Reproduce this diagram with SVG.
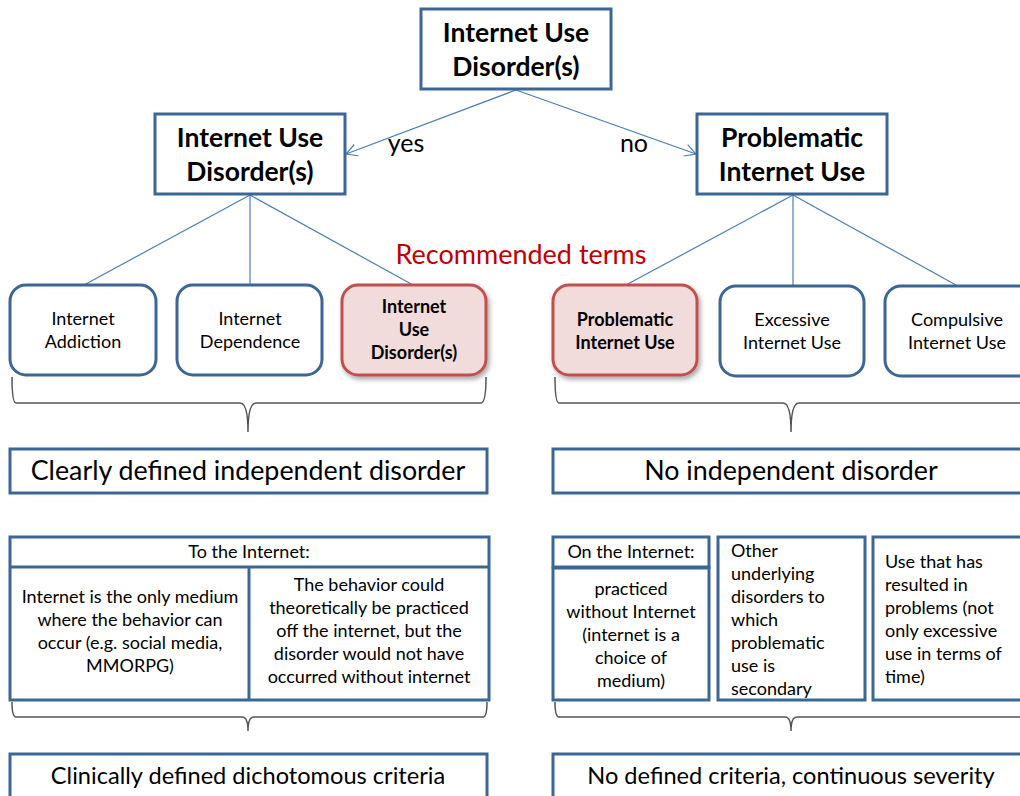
<svg xmlns="http://www.w3.org/2000/svg" width="1020" height="796" viewBox="0 0 1020 796">
<style>
text{font-family:Lato,"Open Sans","Liberation Sans",sans-serif;fill:#000;text-anchor:middle}
.box{fill:#fff;stroke:#3c6696;stroke-width:3}
.rbox{fill:#fff;stroke:#3c6696;stroke-width:3}
.red{fill:#f2dcdb;stroke:#c0504d;stroke-width:3}
.con{fill:none;stroke:#4a7ebb;stroke-width:1.2}
.brace{fill:none;stroke:#555;stroke-width:1.5}
.h1{font-size:26.5px;font-weight:bold}
.n{font-size:18px}
.nb{font-size:18px;font-weight:bold}
.big{font-size:26.8px}
.big2{font-size:23.6px}
.lbl{font-size:25px}
.l{text-anchor:start}
</style>
<defs>
<marker id="arr" markerWidth="14" markerHeight="14" refX="12" refY="7" orient="auto" markerUnits="userSpaceOnUse">
<path d="M1,1 L12,7 L1,13" fill="none" stroke="#4a7ebb" stroke-width="1.2"/>
</marker>
<filter id="sh" x="-10%" y="-10%" width="130%" height="130%">
<feGaussianBlur in="SourceAlpha" stdDeviation="2.5"/>
<feOffset dx="2" dy="3"/>
<feComponentTransfer><feFuncA type="linear" slope="0.35"/></feComponentTransfer>
<feMerge><feMergeNode/><feMergeNode in="SourceGraphic"/></feMerge>
</filter>
</defs>

<g id="connectors">
<line class="con" x1="516" y1="90" x2="346" y2="154" marker-end="url(#arr)"/>
<line class="con" x1="516" y1="90" x2="696" y2="154" marker-end="url(#arr)"/>
<line class="con" x1="250" y1="195" x2="84" y2="285"/>
<line class="con" x1="250" y1="195" x2="250" y2="285"/>
<line class="con" x1="250" y1="195" x2="413" y2="285"/>
<line class="con" x1="793" y1="195" x2="626" y2="285"/>
<line class="con" x1="793" y1="195" x2="793" y2="285"/>
<line class="con" x1="793" y1="195" x2="956" y2="285"/>
<text class="lbl" x="406" y="152">yes</text>
<text class="lbl" x="634" y="152">no</text>
<path class="brace" d="M12,377 Q12,403 16,403 L240,403 Q248,403 248,432 Q248,403 256,403 L481,403 Q486,403 486,377"/>
<path class="brace" d="M555,377 Q555,403 559,403 L783,403 Q791,403 791,432 Q791,403 799,403 L1024,403"/>
<path class="brace" d="M12,702 Q12,717 16,717 L242,717 Q248,717 248,731 Q248,717 254,717 L483,717 Q487,717 487,702"/>
<path class="brace" d="M555,702 Q555,717 559,717 L785,717 Q791,717 791,731 Q791,717 797,717 L1024,717"/>
</g>

<g id="root">
<rect class="box" x="421" y="9" width="190" height="80"/>
<text class="h1" x="516" y="42">Internet Use</text>
<text class="h1" x="516" y="76">Disorder(s)</text>
</g>

<g id="iud">
<rect class="box" x="155" y="114" width="190" height="80"/>
<text class="h1" x="250" y="147">Internet Use</text>
<text class="h1" x="250" y="181">Disorder(s)</text>
</g>

<g id="piu">
<rect class="box" x="697" y="114" width="190" height="80"/>
<text class="h1" x="792" y="147">Problematic</text>
<text class="h1" x="792" y="181">Internet Use</text>
</g>

<g id="recommended">
<text x="521" y="264" style="font-size:27px;fill:#c00000">Recommended terms</text>
</g>

<g id="addiction">
<rect class="rbox" x="10" y="285" width="146" height="90" rx="16"/>
<text class="n" x="83" y="325">Internet</text>
<text class="n" x="83" y="348">Addiction</text>
</g>
<g id="dependence">
<rect class="rbox" x="177" y="285" width="145" height="90" rx="16"/>
<text class="n" x="250" y="325">Internet</text>
<text class="n" x="250" y="348">Dependence</text>
</g>
<g id="iud-term">
<rect class="red" x="342" y="285" width="144" height="90" rx="16" filter="url(#sh)"/>
<text class="nb" x="414" y="313">Internet</text>
<text class="nb" x="414" y="336">Use</text>
<text class="nb" x="414" y="359">Disorder(s)</text>
</g>
<g id="piu-term">
<rect class="red" x="553" y="285" width="144" height="90" rx="16" filter="url(#sh)"/>
<text class="nb" x="625" y="326">Problematic</text>
<text class="nb" x="625" y="349">Internet Use</text>
</g>
<g id="excessive">
<rect class="rbox" x="720" y="286" width="144" height="90" rx="16"/>
<text class="n" x="792" y="326">Excessive</text>
<text class="n" x="792" y="349">Internet Use</text>
</g>
<g id="compulsive">
<rect class="rbox" x="885" y="286" width="150" height="90" rx="16"/>
<text class="n" x="957" y="326">Compulsive</text>
<text class="n" x="957" y="349">Internet Use</text>
</g>

<g id="clearly">
<rect class="box" x="10" y="449" width="477" height="44"/>
<text class="big" x="248" y="480">Clearly defined independent disorder</text>
</g>
<g id="noindep">
<rect class="box" x="553" y="449" width="480" height="44"/>
<text class="big" x="791" y="480">No independent disorder</text>
</g>

<g id="to-internet">
<rect class="box" x="10" y="537" width="479" height="163"/>
<line x1="10" y1="567" x2="489" y2="567" stroke="#3c6696" stroke-width="3"/>
<line x1="249" y1="567" x2="249" y2="700" stroke="#3c6696" stroke-width="3"/>
<text class="n" x="249" y="558">To the Internet:</text>
<text class="n" x="130" y="603">Internet is the only medium</text>
<text class="n" x="130" y="626">where the behavior can</text>
<text class="n" x="130" y="649">occur (e.g. social media,</text>
<text class="n" x="130" y="672">MMORPG)</text>
<text class="n" x="369" y="591">The behavior could</text>
<text class="n" x="369" y="614">theoretically be practiced</text>
<text class="n" x="369" y="637">off  the internet, but the</text>
<text class="n" x="369" y="660">disorder would not have</text>
<text class="n" x="369" y="683">occurred without internet</text>
</g>

<g id="on-internet">
<rect class="box" x="553" y="537" width="156" height="30"/>
<text class="n" x="631" y="558">On the Internet:</text>
<rect class="box" x="553" y="568" width="156" height="132"/>
<text class="n" x="631" y="595">practiced</text>
<text class="n" x="631" y="618">without Internet</text>
<text class="n" x="631" y="641">(internet is a</text>
<text class="n" x="631" y="664">choice of</text>
<text class="n" x="631" y="687">medium)</text>
</g>

<g id="other">
<rect class="box" x="718" y="537" width="147" height="163"/>
<text class="n l" x="731" y="557">Other</text>
<text class="n l" x="731" y="580">underlying</text>
<text class="n l" x="731" y="603">disorders to</text>
<text class="n l" x="731" y="626">which</text>
<text class="n l" x="731" y="649">problematic</text>
<text class="n l" x="731" y="672">use is</text>
<text class="n l" x="731" y="695">secondary</text>
</g>

<g id="use">
<rect class="box" x="873" y="537" width="160" height="163"/>
<text class="n l" x="885" y="568">Use that has</text>
<text class="n l" x="885" y="591">resulted  in</text>
<text class="n l" x="885" y="614">problems (not</text>
<text class="n l" x="885" y="637">only excessive</text>
<text class="n l" x="885" y="660">use in terms of</text>
<text class="n l" x="885" y="683">time)</text>
</g>

<g id="clinical">
<rect class="box" x="10" y="754" width="477" height="48"/>
<text class="big2" x="248" y="784">Clinically defined dichotomous criteria</text>
</g>
<g id="nodefined">
<rect class="box" x="553" y="754" width="480" height="48"/>
<text class="big2" x="791" y="784">No defined criteria, continuous severity</text>
</g>
</svg>
